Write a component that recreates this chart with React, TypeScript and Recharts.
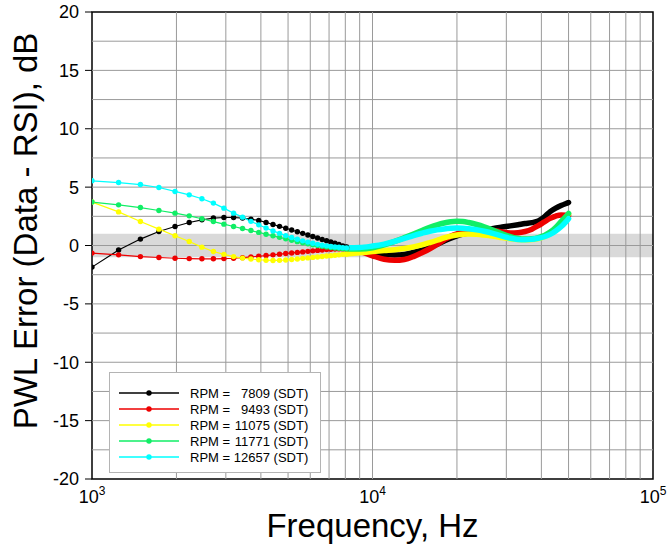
import React from 'react';
import { LineChart, Line, XAxis, YAxis, ReferenceArea, ReferenceLine, Legend } from 'recharts';

// Frequencies (Hz)
const lowFreq = [1000, 1244, 1488, 1732, 1977, 2221, 2465, 2709, 2953, 3197, 3441, 3686, 3930, 4174, 4418, 4662, 4906, 5150, 5395, 5639, 5883, 6127, 6371, 6615, 6859, 7104, 7348, 7592, 7836, 8080];
const highFreq = [8080, 9000, 10000, 11000, 12000, 13000, 14000, 15000, 16000, 17000, 18000, 19000, 20000, 21000, 22000, 23500, 25000, 27000, 29000, 31000, 33000, 35000, 37000, 39000, 41000, 43000, 45000, 47000, 49000, 50000];

// PWL error (dB) per RPM series
const blackLow = [-1.85, -0.39, 0.55, 1.2, 1.63, 1.97, 2.2, 2.35, 2.4, 2.4, 2.35, 2.26, 2.14, 1.98, 1.8, 1.64, 1.48, 1.33, 1.18, 1.04, 0.9, 0.77, 0.64, 0.52, 0.41, 0.3, 0.19, 0.08, -0.03, -0.14];
const blackHigh = [-0.14, -0.42, -0.62, -0.76, -0.82, -0.76, -0.6, -0.4, -0.18, 0.1, 0.38, 0.62, 0.82, 0.97, 1.08, 1.2, 1.32, 1.47, 1.58, 1.68, 1.78, 1.88, 1.96, 2.1, 2.45, 2.9, 3.2, 3.42, 3.6, 3.68];

const redLow = [-0.65, -0.8, -0.95, -1.03, -1.09, -1.12, -1.14, -1.14, -1.12, -1.09, -1.04, -0.98, -0.92, -0.86, -0.8, -0.74, -0.69, -0.64, -0.59, -0.55, -0.5, -0.46, -0.42, -0.38, -0.35, -0.32, -0.3, -0.29, -0.29, -0.31];
const redHigh = [-0.31, -0.5, -0.88, -1.18, -1.27, -1.2, -0.95, -0.62, -0.28, 0.1, 0.48, 0.8, 1.0, 1.14, 1.24, 1.32, 1.34, 1.28, 1.16, 1.08, 1.1, 1.2, 1.4, 1.7, 2.02, 2.32, 2.52, 2.62, 2.6, 2.55];

const yellowLow = [3.72, 2.88, 2.05, 1.4, 0.83, 0.34, -0.14, -0.51, -0.76, -0.95, -1.08, -1.16, -1.22, -1.26, -1.28, -1.27, -1.24, -1.2, -1.15, -1.1, -1.06, -1.02, -0.98, -0.94, -0.9, -0.87, -0.83, -0.8, -0.76, -0.73];
const yellowHigh = [-0.73, -0.63, -0.52, -0.43, -0.36, -0.26, -0.12, 0.05, 0.25, 0.45, 0.65, 0.8, 0.9, 0.96, 0.98, 0.96, 0.9, 0.8, 0.68, 0.58, 0.52, 0.5, 0.52, 0.6, 0.75, 1.0, 1.4, 1.9, 2.45, 2.7];

const greenLow = [3.72, 3.48, 3.25, 3.0, 2.77, 2.54, 2.29, 2.05, 1.83, 1.63, 1.45, 1.28, 1.12, 0.97, 0.83, 0.7, 0.57, 0.44, 0.33, 0.23, 0.14, 0.06, -0.01, -0.07, -0.12, -0.17, -0.21, -0.24, -0.27, -0.29];
const greenHigh = [-0.29, -0.31, -0.2, 0.05, 0.35, 0.67, 0.98, 1.28, 1.55, 1.77, 1.93, 2.03, 2.07, 2.05, 1.97, 1.8, 1.6, 1.3, 1.0, 0.76, 0.6, 0.55, 0.58, 0.68, 0.85, 1.15, 1.55, 2.05, 2.5, 2.75];

const cyanLow = [5.54, 5.39, 5.22, 4.97, 4.63, 4.34, 4.0, 3.63, 3.2, 2.77, 2.43, 2.07, 1.77, 1.5, 1.25, 1.04, 0.85, 0.68, 0.53, 0.4, 0.29, 0.19, 0.1, 0.03, -0.03, -0.08, -0.12, -0.15, -0.18, -0.2];
const cyanHigh = [-0.2, -0.18, -0.05, 0.12, 0.35, 0.6, 0.85, 1.05, 1.22, 1.34, 1.42, 1.47, 1.49, 1.48, 1.44, 1.35, 1.22, 1.02, 0.8, 0.62, 0.52, 0.5, 0.53, 0.62, 0.75, 0.95, 1.25, 1.6, 2.05, 2.3];

const rpmLabels = ['7809', '9493', '11075', '11771', '12657'];
const colors = ['#000000', '#ee0000', '#ffff00', '#11ee66', '#00ffff'];
const lowSeries = [blackLow, redLow, yellowLow, greenLow, cyanLow];
const highSeries = [blackHigh, redHigh, yellowHigh, greenHigh, cyanHigh];

const xTicks = [1000, 10000, 100000];
const yTicks = [-20, -15, -10, -5, 0, 5, 10, 15, 20];
const gridX = [2000, 3000, 4000, 5000, 6000, 7000, 8000, 9000, 10000, 20000, 30000, 40000, 50000, 60000, 70000, 80000, 90000];
const gridY = [-17.5, -15, -12.5, -10, -7.5, -5, -2.5, 0, 2.5, 5, 7.5, 10, 12.5, 15, 17.5];
const band = [-1, 1];

const FONT = '"Liberation Sans", Arial, Helvetica, sans-serif';

const XTick = (props: any) => {
  const { x, y, payload } = props;
  const exp = Math.round(Math.log10(payload.value));
  return (
    <text x={x} y={y + 24} textAnchor="middle" fontSize={18} fill="#000" fontFamily={FONT}>
      <tspan>10</tspan>
      <tspan dy={-8} fontSize={12}>{exp}</tspan>
    </text>
  );
};

const LegendBox = () => (
  <svg width={212} height={101} style={{ display: 'block' }}>
    <rect x={0.5} y={0.5} width={211} height={100} fill="#fff" stroke="#b4b4b4" strokeWidth={1} />
    {rpmLabels.map((r, i) => {
      const cy = 21 + i * 16;
      return (
        <g key={r}>
          <line x1={10} x2={70} y1={cy} y2={cy} stroke={colors[i]} strokeWidth={1.5} />
          <circle cx={40} cy={cy} r={2.7} fill={colors[i]} />
          <text x={81} y={cy} dy="0.35em" fontSize={13} fontFamily={FONT} fill="#000">RPM =</text>
          <text x={161} y={cy} dy="0.35em" fontSize={13} fontFamily={FONT} fill="#000" textAnchor="end">{r}</text>
          <text x={164.6} y={cy} dy="0.35em" fontSize={13} fontFamily={FONT} fill="#000">(SDT)</text>
        </g>
      );
    })}
  </svg>
);

export default function App() {
  return (
    <div style={{ position: 'absolute', left: 0, top: 0, width: 669, height: 550, background: '#fff', fontFamily: FONT }}>
      <LineChart width={669} height={550} margin={{ top: 12, right: 16, bottom: 0, left: 0 }}>
        <XAxis
          dataKey="f"
          type="number"
          scale="log"
          domain={[1000, 100000]}
          ticks={xTicks}
          allowDataOverflow
          axisLine={false}
          tickLine={false}
          tickSize={0}
          tickMargin={0}
          height={71}
          tick={<XTick />}
          interval={0}
          label={(p: any) => {
            const vb = p.viewBox || {};
            const cx = vb.x !== undefined ? vb.x + vb.width / 2 : 372.5;
            return (
              <text x={cx} y={537} textAnchor="middle" fontSize={33} fill="#000" fontFamily={FONT}>
                Frequency, Hz
              </text>
            );
          }}
        />
        <YAxis
          type="number"
          domain={[-20, 20]}
          ticks={yTicks}
          allowDataOverflow
          width={92}
          axisLine={false}
          tickLine={{ stroke: '#000', strokeWidth: 1 }}
          tickSize={7}
          tickMargin={6}
          interval={0}
          tick={{ fontSize: 18, fill: '#000', fontFamily: FONT }}
          label={() => (
            <text x={37} y={231} transform="rotate(-90 37 231)" textAnchor="middle" fontSize={33} fill="#000" fontFamily={FONT}>
              PWL Error (Data - RSI), dB
            </text>
          )}
        />
        {gridX.map((g) => (
          <ReferenceLine key={'gx' + g} x={g} stroke="#9a9a9a" strokeWidth={1} />
        ))}
        {gridY.map((g) => (
          <ReferenceLine key={'gy' + g} y={g} stroke="#9a9a9a" strokeWidth={1} />
        ))}
        <ReferenceArea x1={1000} x2={100000} y1={band[0]} y2={band[1]} fill="#000" fillOpacity={0.15} stroke="none" />
        {lowSeries.map((s, i) => [
          <Line
            key={'lo' + i}
            data={lowFreq.map((f, j) => ({ f, v: s[j] }))}
            dataKey="v"
            type="linear"
            stroke={colors[i]}
            strokeWidth={1.2}
            dot={{ r: 2.7, fill: colors[i], stroke: 'none' }}
            activeDot={false}
            isAnimationActive={false}
            legendType="none"
          />,
          <Line
            key={'hi' + i}
            data={highFreq.map((f, j) => ({ f, v: highSeries[i][j] }))}
            dataKey="v"
            type="monotone"
            stroke={colors[i]}
            strokeWidth={5.5}
            strokeLinecap="round"
            dot={false}
            activeDot={false}
            isAnimationActive={false}
            legendType="none"
          />,
        ])}
        <ReferenceArea x1={1000} x2={100000} y1={-20} y2={20} fill="none" stroke="#000" strokeWidth={1.5} />
        <Legend
          layout="vertical"
          align="center"
          verticalAlign="middle"
          content={() => <LegendBox />}
          wrapperStyle={{ left: 109, top: 372, width: 212, height: 101 }}
        />
      </LineChart>
    </div>
  );
}
